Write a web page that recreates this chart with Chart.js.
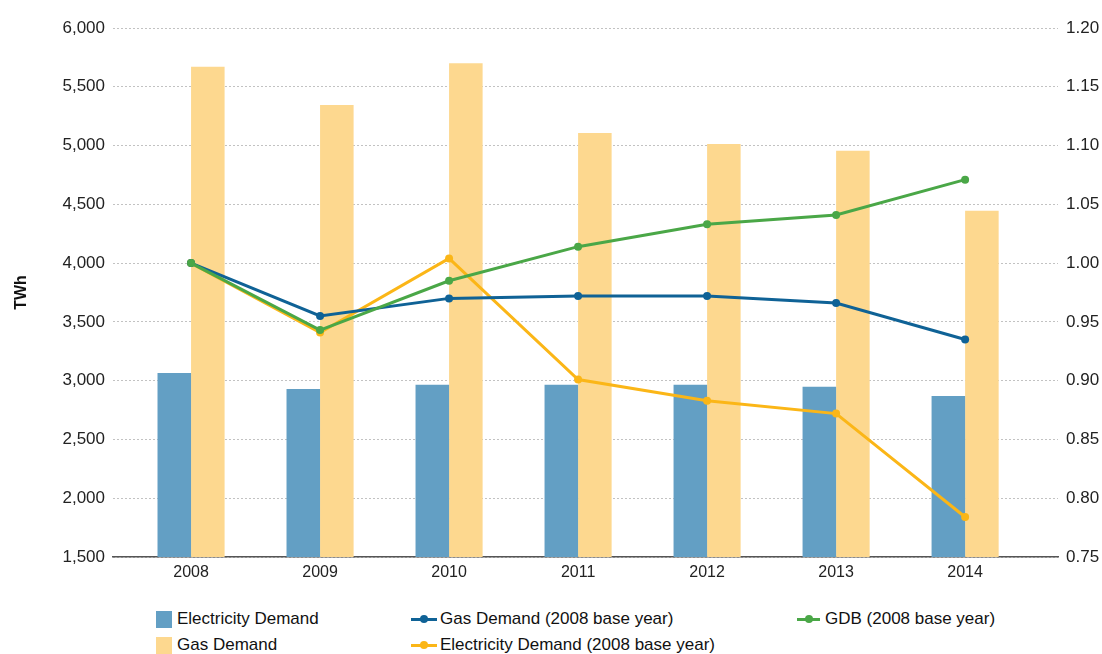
<!DOCTYPE html>
<html>
<head>
<meta charset="utf-8">
<script src="https://cdn.jsdelivr.net/npm/chart.js@4"></script>
<style>
  body { margin: 0; background: #fff; font-family: "Liberation Sans", Arial, sans-serif; }
  #wrap { position: relative; width: 1102px; height: 654px; overflow: hidden; }
  #box { position: absolute; left: 0; top: 0; width: 1102px; height: 595px; }
  .lg { position: absolute; font-size: 17px; color: #111; white-space: nowrap; line-height: 20px; }
  .sq { position: absolute; width: 16px; height: 17px; }
  .ln { position: absolute; height: 3px; }
  .dot { position: absolute; width: 8px; height: 8px; border-radius: 50%; }
</style>
</head>
<body>
<div id="wrap">
  <div id="box"><canvas id="myChart"></canvas></div>
  <div id="legend"></div>
</div>
<script>
//Data
const years = [2008, 2009, 2010, 2011, 2012, 2013, 2014];
const elecDemand = [3065, 2930, 2965, 2965, 2965, 2948, 2870];
const gasDemand = [5670, 5345, 5700, 5107, 5013, 4955, 4445];
const gasIndex = [1.0, 0.955, 0.970, 0.972, 0.972, 0.966, 0.935];
const gdbIndex = [1.0, 0.943, 0.985, 1.014, 1.033, 1.041, 1.071];
const elecIndex = [1.0, 0.941, 1.004, 0.901, 0.883, 0.872, 0.784];
const leftTicks = [1500, 6000, 500];
const rightTicks = [0.75, 1.20, 0.05];

const cBlueBar = '#639fc4';
const cGasBar = '#fdd88f';
const cGasLine = '#0f6296';
const cGreen = '#4aa747';
const cOrange = '#fbb617';

const fam = '"Liberation Sans", Arial, sans-serif';
const yFont = { family: fam, size: 17 };
const xFont = { family: fam, size: 16 };

function lineSet(label, data, color, order) {
  return {
    type: 'line', label: label, data: data, yAxisID: 'y1', order: order,
    borderColor: color, backgroundColor: color, borderWidth: 3,
    pointRadius: 4, pointHoverRadius: 4, pointBorderWidth: 0, tension: 0
  };
}

let ctx = document.getElementById('myChart').getContext('2d');
let myChart = new Chart(ctx, {
  type: 'bar',
  data: {
    labels: years,
    datasets: [
      { label: 'Electricity Demand', data: elecDemand, backgroundColor: cBlueBar, yAxisID: 'y', order: 5,
        categoryPercentage: 0.52, barPercentage: 1.0 },
      { label: 'Gas Demand', data: gasDemand, backgroundColor: cGasBar, yAxisID: 'y', order: 5,
        categoryPercentage: 0.52, barPercentage: 1.0 },
      lineSet('Gas Demand (2008 base year)', gasIndex, cGasLine, 2),
      lineSet('Electricity Demand (2008 base year)', elecIndex, cOrange, 3),
      lineSet('GDB (2008 base year)', gdbIndex, cGreen, 1)
    ]
  },
  options: {
    responsive: true,
    maintainAspectRatio: false,
    animation: false,
    layout: { padding: { top: 28, left: 0, right: 0, bottom: 0 } },
    plugins: { legend: { display: false }, tooltip: { enabled: false } },
    scales: {
      x: {
        type: 'linear',
        offset: false,
        min: 2007.395, max: 2014.72,
        afterFit: s => { s.height = 38; },
        grid: { display: false, drawTicks: false },
        border: { display: true, color: '#555', width: 1.5 },
        ticks: { stepSize: 1, includeBounds: false, color: '#222', font: xFont, padding: 6,
                 callback: v => Number.isInteger(v) ? String(v) : '' }
      },
      y: {
        position: 'left',
        min: leftTicks[0], max: leftTicks[1],
        afterFit: s => { s.width = 113; },
        border: { display: false, dash: [2, 2] },
        grid: { color: '#c2c2c2', lineWidth: 1, drawTicks: false },
        ticks: { stepSize: leftTicks[2], color: '#222', font: yFont, padding: 8,
                 callback: v => v.toLocaleString('en-US') },
        title: { display: true, text: 'TWh', color: '#111',
                 font: { family: fam, size: 16, weight: 'bold' },
                 padding: { top: 12, bottom: 0 } }
      },
      y1: {
        position: 'right',
        min: rightTicks[0], max: rightTicks[1],
        afterFit: s => { s.width = 44; },
        border: { display: false },
        grid: { display: false, drawTicks: false },
        ticks: { stepSize: rightTicks[2], color: '#222', font: yFont, padding: 8,
                 callback: v => v.toFixed(2) }
      }
    }
  }
});

//Legend
const legendItems = [
  { kind: 'bar', text: 'Electricity Demand', color: cBlueBar, x: 156, y: 619 },
  { kind: 'bar', text: 'Gas Demand', color: cGasBar, x: 156, y: 645 },
  { kind: 'line', text: 'Gas Demand (2008 base year)', color: cGasLine, x: 411, y: 619, w: 26, tx: 440 },
  { kind: 'line', text: 'Electricity Demand (2008 base year)', color: cOrange, x: 411, y: 645, w: 26, tx: 440 },
  { kind: 'line', text: 'GDB (2008 base year)', color: cGreen, x: 797, y: 619, w: 23, tx: 825 }
];
const lg = document.getElementById('legend');
legendItems.forEach(it => {
  if (it.kind === 'bar') {
    lg.insertAdjacentHTML('beforeend',
      `<div class="sq" style="left:${it.x}px;top:${it.y - 8}px;background:${it.color}"></div>` +
      `<div class="lg" style="left:${it.x + 21}px;top:${it.y - 10}px">${it.text}</div>`);
  } else {
    lg.insertAdjacentHTML('beforeend',
      `<div class="ln" style="left:${it.x}px;top:${it.y - 1}px;width:${it.w}px;background:${it.color}"></div>` +
      `<div class="dot" style="left:${it.x + it.w / 2 - 4}px;top:${it.y - 4}px;background:${it.color}"></div>` +
      `<div class="lg" style="left:${it.tx}px;top:${it.y - 10}px">${it.text}</div>`);
  }
});
</script>
</body>
</html>
